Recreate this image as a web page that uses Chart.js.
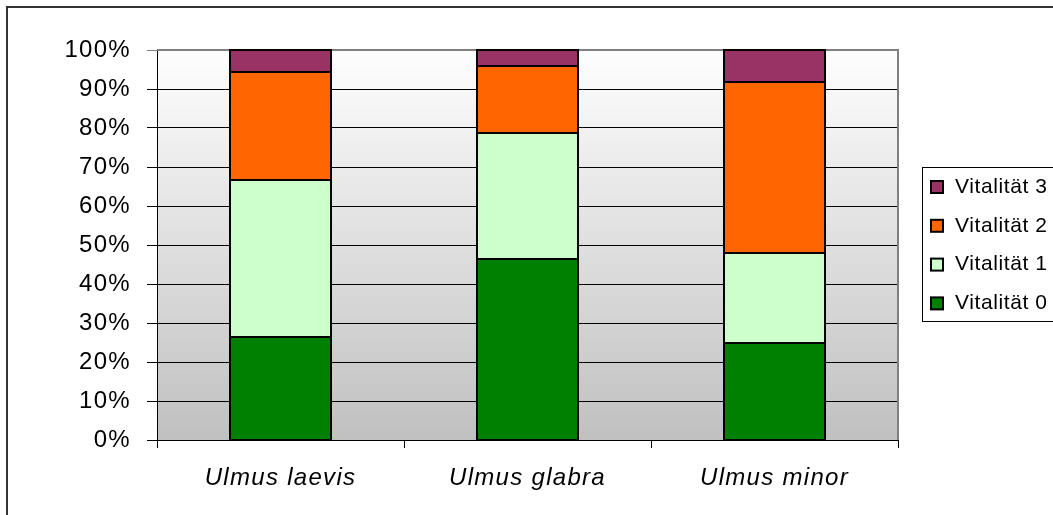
<!DOCTYPE html>
<html>
<head>
<meta charset="utf-8">
<script src="https://cdn.jsdelivr.net/npm/chart.js@4.4.1/dist/chart.umd.min.js"></script>
<style>
  html, body { margin: 0; padding: 0; background: #fff; }
  #wrap { width: 1053px; height: 515px; position: relative; }
</style>
</head>
<body>
<div id="wrap"><canvas id="c" width="1053" height="515"></canvas></div>
<script>
// Species on the x axis
const categories = ['Ulmus laevis', 'Ulmus glabra', 'Ulmus minor'];
// Share of trees per vitality class (percent of each species)
const vitality0 = [26.5, 46.3, 25.0];
const vitality1 = [40.2, 32.3, 22.9];
const vitality2 = [27.6, 17.2, 43.8];
const vitality3 = [5.7, 4.2, 8.3];
const seriesNames = ['Vitalität 0', 'Vitalität 1', 'Vitalität 2', 'Vitalität 3'];
const seriesColors = ['#008000', '#CCFFCC', '#FF6600', '#993366'];
const yTickLabels = ['0%', '10%', '20%', '30%', '40%', '50%', '60%', '70%', '80%', '90%', '100%'];

const FONT = '"Liberation Sans", Arial, sans-serif';

const frame = {
  id: 'frame',
  beforeDraw(chart) {
    const ctx = chart.ctx;
    const a = chart.chartArea;
    ctx.save();
    ctx.fillStyle = '#fff';
    ctx.fillRect(0, 0, chart.width, chart.height);
    // outer chart border
    ctx.strokeStyle = '#333';
    ctx.lineWidth = 2;
    ctx.strokeRect(7, 7, chart.width + 20, chart.height + 20);
    // plot area gradient
    const g = ctx.createLinearGradient(0, a.top, 0, a.bottom);
    g.addColorStop(0, '#fefefe');
    g.addColorStop(1, '#c0c0c0');
    ctx.fillStyle = g;
    ctx.fillRect(a.left, a.top, a.right - a.left, a.bottom - a.top);
    ctx.restore();
    ctx.letterSpacing = '1.3px';
  },
  beforeDatasetsDraw(chart) {
    const ctx = chart.ctx;
    const a = chart.chartArea;
    ctx.save();
    ctx.strokeStyle = '#808080';
    ctx.lineWidth = 2;
    ctx.beginPath();
    ctx.moveTo(a.left, a.top);
    ctx.lineTo(a.right, a.top);
    ctx.lineTo(a.right, a.bottom);
    ctx.stroke();
    ctx.restore();
  },
  afterDatasetsDraw(chart) {
    // black outline around every bar segment
    const ctx = chart.ctx;
    ctx.save();
    ctx.strokeStyle = '#000';
    ctx.lineWidth = 2;
    chart.data.datasets.forEach((ds, di) => {
      chart.getDatasetMeta(di).data.forEach((bar) => {
        const p = bar.getProps(['x', 'y', 'base', 'width'], true);
        const left = Math.round(p.x - p.width / 2);
        const right = Math.round(p.x + p.width / 2);
        const top = Math.round(Math.min(p.y, p.base));
        const bottom = Math.round(Math.max(p.y, p.base));
        ctx.strokeRect(left, top, right - left, bottom - top);
      });
    });
    ctx.restore();
  },
  afterDraw(chart) {
    const ctx = chart.ctx;
    ctx.save();
    ctx.letterSpacing = '0.6px';
    // legend frame
    ctx.strokeStyle = '#000';
    ctx.lineWidth = 1;
    ctx.strokeRect(922.5, 167.5, 200, 154);
    ctx.font = '21px ' + FONT;
    ctx.textBaseline = 'middle';
    ctx.textAlign = 'left';
    const rows = chart.data.datasets.slice().reverse();
    rows.forEach((ds, i) => {
      const cy = 187 + i * 38.8;
      ctx.fillStyle = ds.backgroundColor;
      ctx.fillRect(931, cy - 6, 12, 12);
      ctx.strokeStyle = '#000';
      ctx.lineWidth = 2;
      ctx.strokeRect(931, cy - 6, 12, 12);
      ctx.fillStyle = '#000';
      ctx.fillText(ds.label, 955, cy);
    });
    ctx.restore();
  }
};

const values = [vitality0, vitality1, vitality2, vitality3];
const datasets = values.map((v, i) => ({
  label: seriesNames[i],
  data: v,
  backgroundColor: seriesColors[i],
  borderWidth: 0,
  inflateAmount: 0.5,
  barPercentage: 0.41,
  categoryPercentage: 1.0
}));

new Chart(document.getElementById('c'), {
  type: 'bar',
  data: { labels: categories, datasets },
  plugins: [frame],
  options: {
    responsive: false,
    animation: false,
    devicePixelRatio: 1,
    layout: { padding: { top: 50, right: 155, left: 0, bottom: 0 } },
    plugins: { legend: { display: false }, tooltip: { enabled: false } },
    scales: {
      x: {
        stacked: true,
        afterFit(s) { s.height = 75; },
        border: { color: '#000', width: 1 },
        grid: { offset: true, drawOnChartArea: false, drawTicks: true, tickLength: 8, color: '#000' },
        ticks: { color: '#000', padding: 16, font: { family: FONT, size: 24, style: 'italic' } }
      },
      y: {
        stacked: true,
        min: 0,
        max: 100,
        afterFit(s) { s.width = 157; },
        border: { color: '#000', width: 1 },
        grid: {
          color: (c) => (c.tick && c.tick.value === 100 ? '#808080' : '#000'),
          tickLength: 10,
          drawTicks: true
        },
        ticks: {
          stepSize: 10,
          color: '#000',
          padding: 16,
          font: { family: FONT, size: 24 },
          callback: (v, i) => yTickLabels[i]
        }
      }
    }
  }
});
</script>
</body>
</html>
